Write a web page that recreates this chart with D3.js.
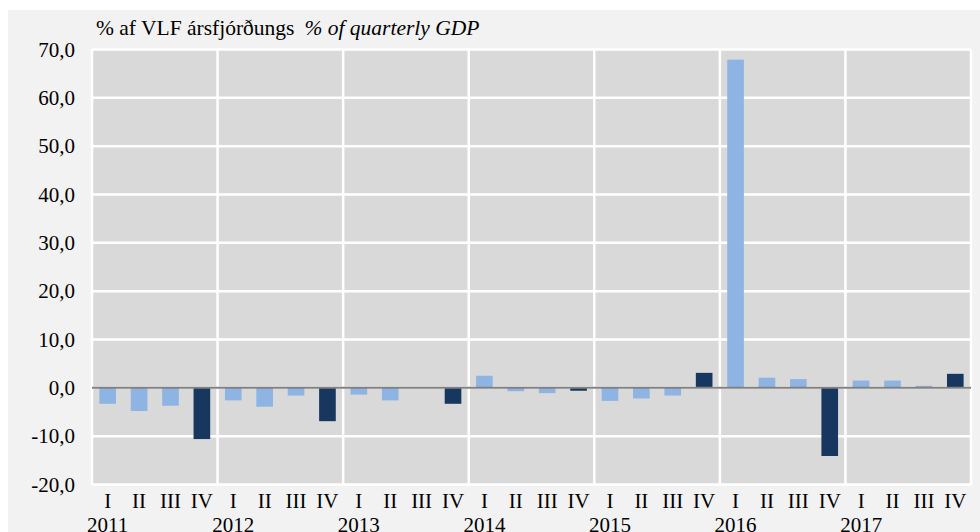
<!DOCTYPE html>
<html>
<head>
<meta charset="utf-8">
<script src="https://cdn.jsdelivr.net/npm/d3@7"></script>
<style>
  body { margin: 0; background: #ffffff; }
  svg { display: block; }
  svg text { font-family: "Liberation Serif", "Times New Roman", serif; fill: #000; }
</style>
</head>
<body>
<script>
//SVG dimension variables
var w = 980, h = 532;

// data
var years = ["2011", "2012", "2013", "2014", "2015", "2016", "2017"];
var quarterLabels = ["I", "II", "III", "IV"];
var values = [
    -3.3, -4.8, -3.7, -10.6,   // 2011
    -2.6, -3.9, -1.6, -6.9,    // 2012
    -1.4, -2.6, 0.0, -3.3,     // 2013
    2.5, -0.7, -1.1, -0.6,     // 2014
    -2.7, -2.2, -1.6, 3.1,     // 2015
    67.9, 2.1, 1.8, -14.1,     // 2016
    1.5, 1.5, 0.4, 2.9         // 2017
];
var yTicks = [-20, -10, 0, 10, 20, 30, 40, 50, 60, 70];

// one row per quarter
var rows = values.map(function(v, i){
    return {
        key: years[Math.floor(i / 4)] + "-" + quarterLabels[i % 4],
        year: years[Math.floor(i / 4)],
        q: i % 4,
        value: v
    };
});

var plot = { left: 92, right: 971, top: 49.5, bottom: 484.5 };

var container = d3.select("body")
    .append("svg")
    .attr("width", w)
    .attr("height", h);

// outer panel
container.append("rect")
    .attr("x", 8)
    .attr("y", 10)
    .attr("width", w - 8)
    .attr("height", h - 10)
    .style("fill", "#f2f2f2");

// scales
var x = d3.scaleBand()
    .domain(rows.map(function(d){ return d.key; }))
    .range([plot.left, plot.right])
    .paddingInner(0.47)
    .paddingOuter(0.235);

var xYear = d3.scaleBand()
    .domain(years)
    .range([plot.left, plot.right]);

var y = d3.scaleLinear()
    .domain([-20, 70])
    .range([plot.bottom, plot.top]);

// plot area
container.append("rect")
    .attr("x", plot.left)
    .attr("y", plot.top)
    .attr("width", plot.right - plot.left)
    .attr("height", plot.bottom - plot.top)
    .style("fill", "#d9d9d9");

// horizontal gridlines
container.selectAll(".hgrid")
    .data(yTicks)
    .enter()
    .append("line")
    .attr("class", "hgrid")
    .attr("x1", plot.left)
    .attr("x2", plot.right)
    .attr("y1", function(d){ return y(d); })
    .attr("y2", function(d){ return y(d); })
    .style("stroke", "#ffffff")
    .style("stroke-width", 2.5);

// vertical gridlines at year boundaries
var yearEdges = years.map(function(d){ return xYear(d); }).concat([plot.right]);
container.selectAll(".vgrid")
    .data(yearEdges)
    .enter()
    .append("line")
    .attr("class", "vgrid")
    .attr("x1", function(d){ return d; })
    .attr("x2", function(d){ return d; })
    .attr("y1", plot.top)
    .attr("y2", plot.bottom)
    .style("stroke", "#ffffff")
    .style("stroke-width", 2.5);

// bars
container.selectAll(".bars")
    .data(rows)
    .enter()
    .append("rect")
    .attr("class", "bars")
    .attr("x", function(d){ return x(d.key); })
    .attr("width", x.bandwidth())
    .attr("y", function(d){ return y(Math.max(0, d.value)); })
    .attr("height", function(d){ return Math.abs(y(d.value) - y(0)); })
    .style("fill", function(d){ return d.q === 3 ? "#17375e" : "#8eb4e3"; });

// zero line
container.append("line")
    .attr("x1", plot.left)
    .attr("x2", plot.right)
    .attr("y1", y(0))
    .attr("y2", y(0))
    .style("stroke", "#808080")
    .style("stroke-width", 2);

// y axis labels
var fmt = function(d){ return d3.format(".1f")(d).replace(".", ",").replace("−", "-"); };
var yAxis = d3.axisLeft(y)
    .tickValues(yTicks)
    .tickSize(0)
    .tickPadding(17)
    .tickFormat(fmt);
var axisG = container.append("g")
    .attr("class", "axis")
    .attr("transform", "translate(" + plot.left + ",0)")
    .call(yAxis);
axisG.select(".domain").remove();
axisG.selectAll("text")
    .style("font-family", "Liberation Serif")
    .style("font-size", "21px")
    .style("fill", "#000");

// quarter labels
container.selectAll(".qlab")
    .data(rows)
    .enter()
    .append("text")
    .attr("class", "qlab")
    .attr("x", function(d){ return x(d.key) + x.bandwidth() / 2; })
    .attr("y", 508)
    .attr("text-anchor", "middle")
    .style("font-size", "21px")
    .text(function(d){ return quarterLabels[d.q]; });

// year labels, centred under first quarter (cut by the bottom edge like the original)
container.selectAll(".ylab")
    .data(years)
    .enter()
    .append("text")
    .attr("class", "ylab")
    .attr("x", function(d){ return x(d + "-I") + x.bandwidth() / 2; })
    .attr("y", 532)
    .attr("text-anchor", "middle")
    .style("font-size", "21px")
    .text(function(d){ return d; });

// title
var title = container.append("text")
    .attr("x", 96)
    .attr("y", 35)
    .style("font-family", "Liberation Serif")
    .style("font-size", "21.5px");
title.append("tspan").text("% af VLF ársfjórðungs");
title.append("tspan")
    .attr("dx", 10)
    .style("font-style", "italic")
    .text("% of quarterly GDP");
</script>
</body>
</html>
